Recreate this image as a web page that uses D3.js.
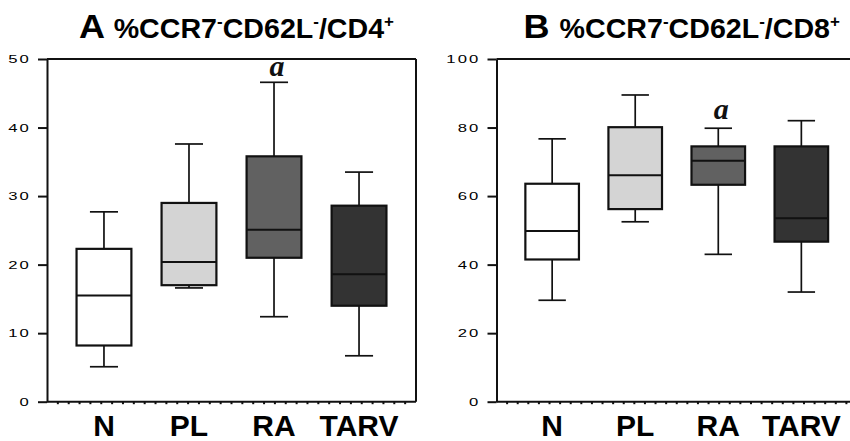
<!DOCTYPE html>
<html>
<head>
<meta charset="utf-8">
<script src="https://cdn.jsdelivr.net/npm/d3@7"></script>
<style>
  body { margin: 0; background: #fff; }
  svg { display: block; font-family: Arial, "Liberation Sans", sans-serif; }
</style>
</head>
<body>
<div id="chart"></div>
<script>
// Data (percent)
const groups = ["N", "PL", "RA", "TARV"];
const fills = ["#ffffff", "#d4d4d4", "#616161", "#333333"];

const cd4Min = [5.1, 16.6, 12.4, 6.7];
const cd4Q1 = [8.2, 17.0, 21.0, 14.0];
const cd4Median = [15.5, 20.4, 25.1, 18.6];
const cd4Q3 = [22.3, 29.0, 35.8, 28.6];
const cd4Max = [27.7, 37.6, 46.6, 33.5];
const cd4Sig = ["", "", "a", ""];
const cd4Ticks = [0, 10, 20, 30, 40, 50];

const cd8Min = [29.6, 52.5, 43.0, 32.0];
const cd8Q1 = [41.5, 56.2, 63.3, 46.7];
const cd8Median = [49.8, 66.1, 70.3, 53.5];
const cd8Q3 = [63.6, 80.1, 74.5, 74.5];
const cd8Max = [76.7, 89.5, 79.8, 82.0];
const cd8Sig = ["", "", "a", ""];
const cd8Ticks = [0, 20, 40, 60, 80, 100];

const W = 850, H = 441;
const svg = d3.select("#chart").append("svg")
    .attr("width", W)
    .attr("height", H);

function drawPanel(opt) {
    const top = 59, bottom = 401.7;
    const g = svg.append("g");

    const x = d3.scalePoint()
        .domain(groups)
        .range([opt.left, opt.right])
        .padding(0.67);
    const step = x.step();
    const boxW = step * 0.645;
    const capW = step * 0.33;

    const y = d3.scaleLinear()
        .domain([0, opt.max])
        .range([bottom, top]);

    const rows = groups.map((k, i) => ({
        key: k, fill: fills[i],
        min: opt.min[i], q1: opt.q1[i], med: opt.median[i],
        q3: opt.q3[i], max: opt.maxv[i], sig: opt.sig[i]
    }));

    // title (slightly wide face, so stretch a bit)
    const tx = (opt.left + opt.right) / 2 + 5;
    const title = g.append("text")
        .attr("transform", `translate(${tx},37.5) scale(1.06,1)`)
        .attr("text-anchor", "middle")
        .attr("font-weight", "bold")
        .attr("fill", "#000");
    title.append("tspan").attr("font-size", 34).text(opt.letter + " ");
    title.append("tspan").attr("font-size", 27).text("%CCR7");
    title.append("tspan").attr("font-size", 16).attr("dy", -11).text("-");
    title.append("tspan").attr("font-size", 27).attr("dy", 11).text("CD62L");
    title.append("tspan").attr("font-size", 16).attr("dy", -11).text("-");
    title.append("tspan").attr("font-size", 27).attr("dy", 11).text("/" + opt.cd);
    title.append("tspan").attr("font-size", 16).attr("dy", -11).text("+");

    // y axis
    const yAxis = g.append("g")
        .attr("transform", `translate(${opt.left},0)`)
        .call(d3.axisLeft(y).tickValues(opt.ticks).tickSize(9).tickSizeOuter(0));
    yAxis.select(".domain").attr("stroke", "#111").attr("stroke-width", 2);
    yAxis.selectAll(".tick line").attr("stroke", "#111").attr("stroke-width", 2);
    yAxis.selectAll(".tick text")
        .attr("x", -11)
        .attr("transform", "scale(1.45,1)")
        .attr("font-size", 11.5)
        .attr("letter-spacing", "1.5px")
        .attr("fill", "#000");

    // frame: top and right
    g.append("line")
        .attr("x1", opt.left).attr("x2", opt.right)
        .attr("y1", top).attr("y2", top)
        .attr("stroke", "#111").attr("stroke-width", 2);
    g.append("line")
        .attr("x1", opt.right).attr("x2", opt.right)
        .attr("y1", top).attr("y2", bottom)
        .attr("stroke", "#111").attr("stroke-width", 2);

    // bottom axis with dotted minor ticks
    g.append("line")
        .attr("x1", opt.left).attr("x2", opt.right)
        .attr("y1", bottom).attr("y2", bottom)
        .attr("stroke", "#111").attr("stroke-width", 2);
    const minor = d3.scaleLinear().domain([0, 34]).range([opt.left, opt.right]);
    g.append("g").selectAll("rect")
        .data(d3.range(1, 34))
        .join("rect")
        .attr("x", d => minor(d) - 1)
        .attr("y", bottom)
        .attr("width", 2)
        .attr("height", 2.5)
        .attr("fill", "#111");

    // boxes
    const box = g.append("g").selectAll("g")
        .data(rows)
        .join("g");

    box.append("line")
        .attr("x1", d => x(d.key)).attr("x2", d => x(d.key))
        .attr("y1", d => y(d.max)).attr("y2", d => y(d.q3))
        .attr("stroke", "#111").attr("stroke-width", 1.7);
    box.append("line")
        .attr("x1", d => x(d.key)).attr("x2", d => x(d.key))
        .attr("y1", d => y(d.q1)).attr("y2", d => y(d.min))
        .attr("stroke", "#111").attr("stroke-width", 1.7);
    box.append("line")
        .attr("x1", d => x(d.key) - capW / 2).attr("x2", d => x(d.key) + capW / 2)
        .attr("y1", d => y(d.max)).attr("y2", d => y(d.max))
        .attr("stroke", "#111").attr("stroke-width", 1.7);
    box.append("line")
        .attr("x1", d => x(d.key) - capW / 2).attr("x2", d => x(d.key) + capW / 2)
        .attr("y1", d => y(d.min)).attr("y2", d => y(d.min))
        .attr("stroke", "#111").attr("stroke-width", 1.7);
    box.append("rect")
        .attr("x", d => x(d.key) - boxW / 2)
        .attr("y", d => y(d.q3))
        .attr("width", boxW)
        .attr("height", d => y(d.q1) - y(d.q3))
        .attr("fill", d => d.fill)
        .attr("stroke", "#111").attr("stroke-width", 2.2);
    box.append("line")
        .attr("x1", d => x(d.key) - boxW / 2).attr("x2", d => x(d.key) + boxW / 2)
        .attr("y1", d => y(d.med)).attr("y2", d => y(d.med))
        .attr("stroke", "#111").attr("stroke-width", 2);

    // significance letters
    box.filter(d => d.sig)
        .append("text")
        .attr("x", d => x(d.key) + 3)
        .attr("y", d => y(d.max) - opt.sigGap)
        .attr("text-anchor", "middle")
        .attr("font-family", "'Liberation Serif', 'DejaVu Serif', serif")
        .attr("font-style", "italic")
        .attr("font-weight", "bold")
        .attr("font-size", 30)
        .attr("fill", "#111")
        .text(d => d.sig);

    // category labels
    g.append("g").selectAll("text")
        .data(groups)
        .join("text")
        .attr("x", d => x(d))
        .attr("y", 436)
        .attr("text-anchor", "middle")
        .attr("font-weight", "bold")
        .attr("font-size", 30)
        .attr("fill", "#000")
        .text(d => d);
}

drawPanel({
    letter: "A", cd: "CD4", left: 47, right: 416, max: 50, ticks: cd4Ticks,
    min: cd4Min, q1: cd4Q1, median: cd4Median, q3: cd4Q3, maxv: cd4Max, sig: cd4Sig,
    sigGap: 6
});
drawPanel({
    letter: "B", cd: "CD8", left: 496.5, right: 857, max: 100, ticks: cd8Ticks,
    min: cd8Min, q1: cd8Q1, median: cd8Median, q3: cd8Q3, maxv: cd8Max, sig: cd8Sig,
    sigGap: 9
});
</script>
</body>
</html>
